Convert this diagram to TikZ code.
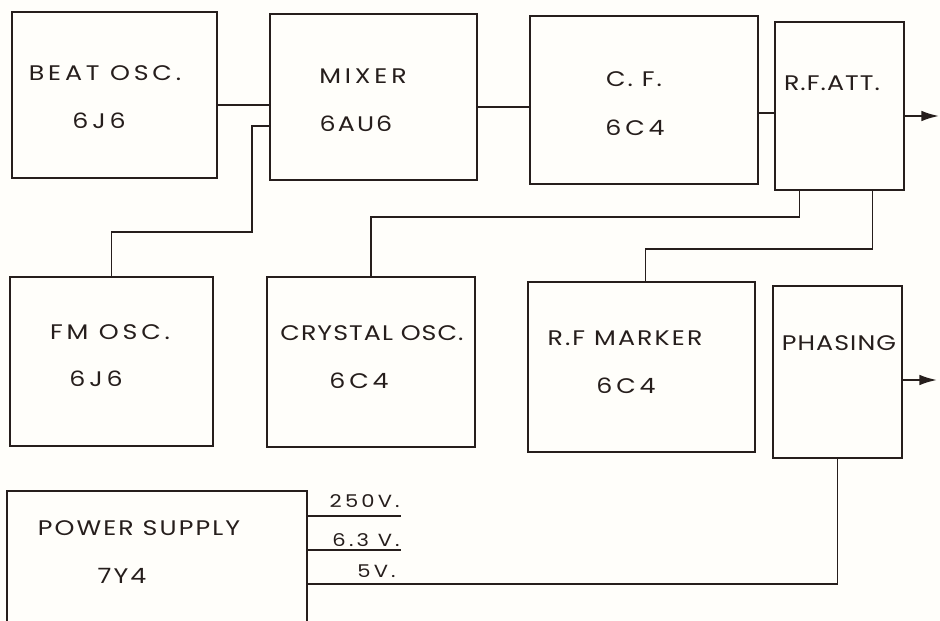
\documentclass[tikz,border=0pt]{standalone}
\usepackage{fontspec}
\usepackage{xcolor}
\usepackage{tikz}
\usetikzlibrary{arrows.meta, calc}
\newfontfamily\lettering[FakeStretch=1.2, LetterSpace=18]{Poppins}
\newfontfamily\letteringmid[FakeStretch=1.2, LetterSpace=10]{Poppins}
\newfontfamily\letteringtight[FakeStretch=1.2, LetterSpace=5]{Poppins}
\definecolor{Ink}{RGB}{38, 30, 28}
\definecolor{Paper}{RGB}{255, 254, 250}

\begin{document}
\begin{tikzpicture}[x=0.02cm, y=-0.02cm,
  bx/.style 2 args={draw=Ink, line width=1.1pt, inner sep=0pt,
             minimum width=#1*0.02cm, minimum height=#2*0.02cm},
  lb/.style={font=\lettering\fontsize{12}{14}\selectfont, text=Ink, inner sep=0pt},
  lbm/.style={lb, font=\letteringmid\fontsize{12}{14}\selectfont},
  lbt/.style={lb, font=\letteringtight\fontsize{12}{14}\selectfont},
  vl/.style={font=\lettering\fontsize{10}{12}\selectfont, text=Ink, inner sep=0pt},
  wire/.style={draw=Ink, line width=1.1pt},
  arr/.style={wire, -{Latex[length=10pt, width=6pt]}}
]
  \useasboundingbox (0,0) rectangle (940,621);
  \clip (0,0) rectangle (940,621);
  \fill[Paper] (0,0) rectangle (940,621);

  % ---- top row ----
  \node[bx={205}{166}] (beat)  at (114.5,95)  {};
  \node[bx={207}{166}] (mixer) at (373.5,97)  {};
  \node[bx={228}{168}] (cf)    at (644,100)   {};
  \node[bx={129}{168}] (att)   at (839.5,106) {};
  \node[lb]  (beat-a)  at (105,73)  {BEAT OSC.};
  \node[lb]  (beat-b)  at (99,121)  {6J6};
  \node[lb]  (mixer-a) at (363,76)  {MIXER};
  \node[lbm] (mixer-b) at (356,124) {6AU6};
  \node[lbm] (cf-a)    at (634,79)  {C. F.};
  \node[lb]  (cf-b)    at (635,128) {6C4};
  \node[lbt] (att-a)   at (832,83)  {R.F.ATT.};

  % ---- middle row ----
  \node[bx={203}{169}] (fm)      at (111.5,361.5) {};
  \node[bx={208}{170}] (xtal)    at (371,362)     {};
  \node[bx={227}{170}] (marker)  at (641.5,367)   {};
  \node[bx={129}{172}] (phasing) at (837.5,372)   {};
  \node[lb]  (fm-a)      at (110,332) {FM OSC.};
  \node[lb]  (fm-b)      at (96,379)  {6J6};
  \node[lbt] (xtal-a)    at (372,333) {CRYSTAL OSC.};
  \node[lb]  (xtal-b)    at (359,381) {6C4};
  \node[lbm] (marker-a)  at (625,338) {R.F MARKER};
  \node[lb]  (marker-b)  at (626,386) {6C4};
  \node[lbt] (phasing-a) at (839,343) {PHASING};

  % ---- power supply (runs off the bottom) ----
  \node[bx={300}{170}] (power) at (157,576) {};
  \node[lbm] (power-a) at (139,528) {POWER SUPPLY};
  \node[lbm] (power-b) at (122,576) {7Y4};

  % ---- pins ----
  \coordinate (mixin1) at ($(beat.east)+(0,10)$);
  \coordinate (mixin2) at ($(mixer.west)+(0,29)$);
  \coordinate (cfin)   at ($(mixer.east)+(0,10)$);
  \coordinate (attin)  at ($(cf.east)+(0,13)$);
  \coordinate (attout) at (939,116);
  \coordinate (phout)  at (937,380);
  \coordinate (v250)   at (401,516);
  \coordinate (v63)    at (401,550);
  \coordinate (v5)     at ($(power.east)+(0,8)$);

  % ---- wires ----
  \draw[wire] (mixin1) -- (mixin1 -| mixer.west);
  \draw[wire] (fm.north) -- ++(0,-44) -| ($(mixin2)+(-17,0)$) -- (mixin2);
  \draw[wire] (cfin) -- (cfin -| cf.west);
  \draw[wire] (attin) -- (attin -| att.west);
  \draw[arr]  (attout -| att.east) -- (attout);
  \draw[wire] ($(att.south)+(-40,0)$) -- ++(0,26) -| (xtal.north);
  \draw[wire] ($(att.south)+(33,0)$) -- ++(0,58) -| ($(marker.north)+(4,0)$);
  \draw[arr]  (phout -| phasing.east) -- (phout);
  \draw[wire] (phasing.south) |- (v5);

  % ---- supply taps ----
  \draw[wire] (v250 -| power.east) -- (v250);
  \draw[wire] (v63 -| power.east) -- (v63);
  \node[vl, anchor=south east] (v250-l) at ($(v250)+(-1,-8)$) {250V.};
  \node[vl, anchor=south east] (v63-l)  at ($(v63)+(-1,-3)$)  {6.3 V.};
  \node[vl, anchor=south east] (v5-l)   at ($(v5 -| v63)+(-5,-6)$) {5V.};
\end{tikzpicture}
\end{document}
